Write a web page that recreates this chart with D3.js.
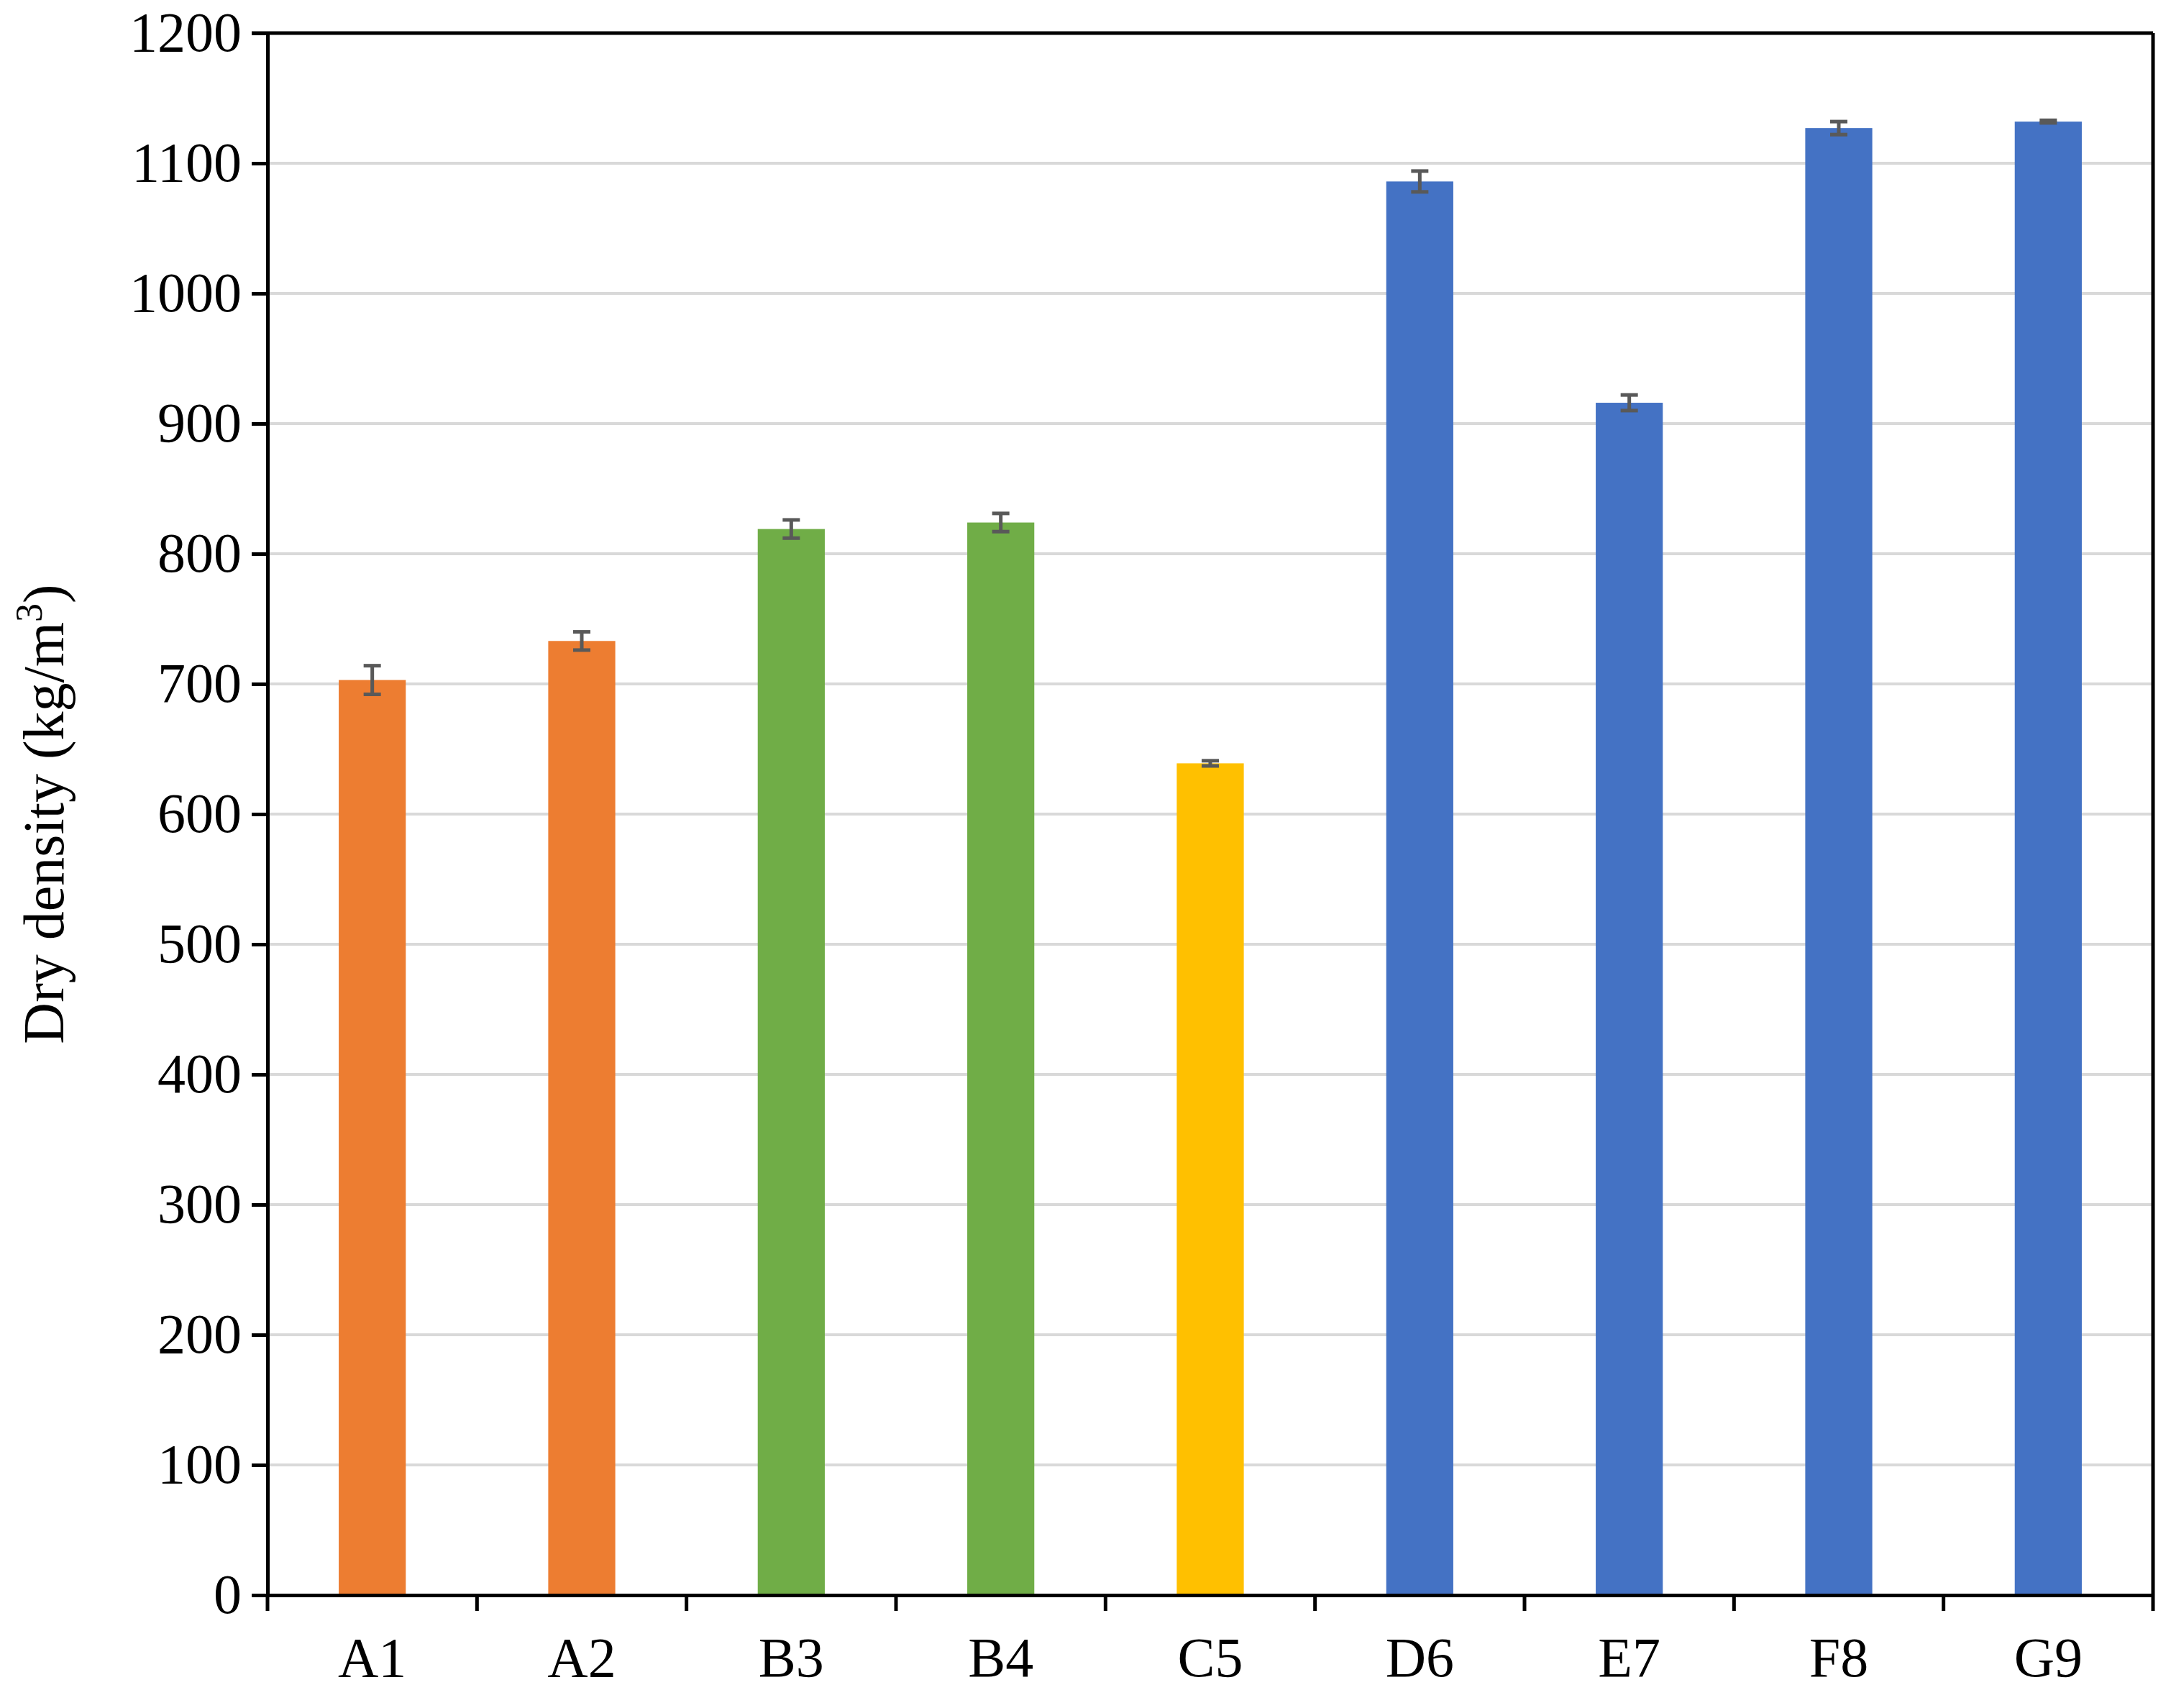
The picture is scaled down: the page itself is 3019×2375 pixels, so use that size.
<!DOCTYPE html>
<html><head><meta charset="utf-8">
<script src="https://d3js.org/d3.v7.min.js"></script>
<style>body{margin:0;background:#fff}</style></head>
<body><svg id="c" width="3019" height="2375"></svg>
<script>
const categories=["A1","A2","B3","B4","C5","D6","E7","F8","G9"];
const values=[703,733,819,824,639,1086,916,1127,1132];
const errors=[11,7,7,7,2,8,6,5,1];
const colors=["#ED7D31","#ED7D31","#70AD47","#70AD47","#FFC000","#4472C4","#4472C4","#4472C4","#4472C4"];
const yTicks=[0,100,200,300,400,500,600,700,800,900,1000,1100,1200];

const L=372,R=2994,T=46,B=2218;
const svg=d3.select("#c");
const x=d3.scaleBand().domain(categories).range([L,R]).paddingInner(0.68).paddingOuter(0.34);
const y=d3.scaleLinear().domain([0,1200]).range([B,T]);
const font="'Liberation Serif','Times New Roman',serif";

svg.append("g").selectAll("line").data(yTicks.slice(1)).join("line")
 .attr("x1",L).attr("x2",R).attr("y1",d=>y(d)).attr("y2",d=>y(d))
 .attr("stroke","#d9d9d9").attr("stroke-width",4);

svg.append("g").selectAll("rect").data(values).join("rect")
 .attr("x",(d,i)=>x(categories[i])).attr("width",x.bandwidth())
 .attr("y",d=>y(d)).attr("height",d=>B-y(d)).attr("fill",(d,i)=>colors[i]);

const eg=svg.append("g").attr("stroke","#595959").attr("stroke-width",5);
values.forEach((v,i)=>{
 const cx=x(categories[i])+x.bandwidth()/2;
 eg.append("line").attr("x1",cx).attr("x2",cx).attr("y1",y(v+errors[i])).attr("y2",y(v-errors[i]));
 [v+errors[i],v-errors[i]].forEach(e=>eg.append("line").attr("x1",cx-12).attr("x2",cx+12).attr("y1",y(e)).attr("y2",y(e)));
});

const ya=svg.append("g").attr("transform",`translate(${L},0)`)
 .call(d3.axisLeft(y).tickValues(yTicks).tickSize(22).tickPadding(14).tickFormat(d3.format("d")));
ya.select(".domain").attr("stroke","#000").attr("stroke-width",5);
ya.selectAll(".tick line").attr("stroke","#000").attr("stroke-width",5);
ya.selectAll("text").attr("font-family",font).attr("font-size",78).attr("fill","#000");

const xa=svg.append("g").attr("transform",`translate(0,${B})`)
 .call(d3.axisBottom(x).tickSize(0).tickPadding(58));
xa.select(".domain").attr("stroke","#000").attr("stroke-width",5);
xa.selectAll("text").attr("font-family",font).attr("font-size",78).attr("fill","#000");
const step=x.step();
const bounds=d3.range(categories.length+1).map(i=>L+i*step);
svg.append("g").selectAll("line").data(bounds).join("line")
 .attr("x1",d=>d).attr("x2",d=>d).attr("y1",B).attr("y2",B+22)
 .attr("stroke","#000").attr("stroke-width",5);

// top border line
svg.append("line").attr("x1",L-22).attr("x2",R).attr("y1",T).attr("y2",T).attr("stroke","#000").attr("stroke-width",5);
svg.append("line").attr("x1",R).attr("x2",R).attr("y1",T).attr("y2",B).attr("stroke","#000").attr("stroke-width",5);

const t=svg.append("text").attr("transform",`translate(88,${(T+B)/2}) rotate(-90)`)
 .attr("text-anchor","middle").attr("font-family",font).attr("font-size",80).attr("fill","#000");
t.append("tspan").text("Dry density (kg/m");
t.append("tspan").attr("font-size",52).attr("dy",-30).text("3");
t.append("tspan").attr("dy",30).text(")");
</script></body></html>
